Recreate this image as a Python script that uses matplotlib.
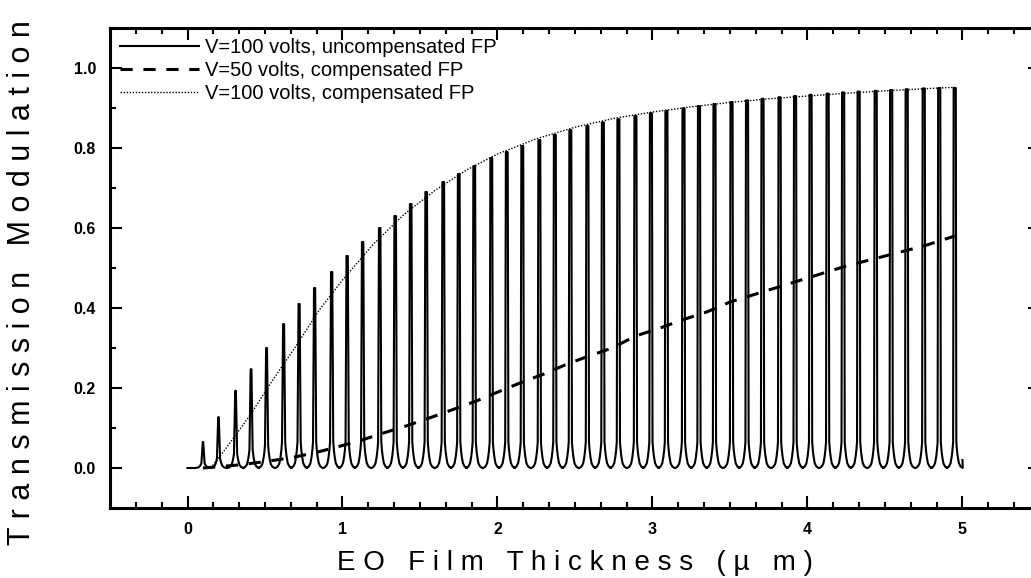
import numpy as np
import matplotlib.pyplot as plt
from matplotlib.ticker import MultipleLocator, AutoMinorLocator

plt.rcParams['font.family'] = ['Liberation Sans', 'DejaVu Sans']

# resonance peaks of the uncompensated FP (V=100 volts)
peak_x = [0.10, 0.20, 0.31, 0.41, 0.51, 0.62, 0.72, 0.82, 0.93, 1.03,
          1.13, 1.24, 1.34, 1.44, 1.54, 1.65, 1.75, 1.85, 1.96, 2.06,
          2.16, 2.27, 2.37, 2.47, 2.58, 2.68, 2.78, 2.89, 2.99, 3.09,
          3.20, 3.30, 3.40, 3.51, 3.61, 3.71, 3.82, 3.92, 4.02, 4.13,
          4.23, 4.33, 4.44, 4.54, 4.64, 4.75, 4.85, 4.95]
peak_h = [0.065, 0.127, 0.193, 0.247, 0.300, 0.360, 0.410, 0.450, 0.490, 0.530,
          0.565, 0.600, 0.630, 0.660, 0.690, 0.715, 0.735, 0.755, 0.775, 0.790,
          0.805, 0.820, 0.833, 0.845, 0.855, 0.864, 0.872, 0.880, 0.887, 0.893,
          0.899, 0.905, 0.910, 0.915, 0.919, 0.923, 0.927, 0.930, 0.933, 0.936,
          0.939, 0.941, 0.943, 0.945, 0.947, 0.949, 0.950, 0.950]

# trough between two peaks: distance from the peak (in periods) and level
trough_dx = [0.10, 0.14, 0.19, 0.26, 0.36, 0.50]
trough_y = [0.065, 0.045, 0.028, 0.012, 0.004, 0.0]

# curve ends
start_x, start_y = 0.0, 0.0
end_x, end_y = 5.0, 0.02

# compensated FP
comp50_x = [0.10, 0.34, 0.48, 0.66, 0.81, 0.96, 1.11, 1.26, 1.41, 1.56,
            1.74, 1.86, 1.99, 2.16, 2.30, 2.45, 2.59, 2.74, 2.89, 3.05,
            3.19, 3.35, 3.50, 3.75, 4.00, 4.25, 4.50, 4.75, 4.95]
comp50_y = [0.0, 0.008, 0.015, 0.025, 0.037, 0.052, 0.068, 0.087, 0.105, 0.125,
            0.150, 0.167, 0.188, 0.215, 0.235, 0.260, 0.280, 0.300, 0.330, 0.350,
            0.370, 0.390, 0.415, 0.445, 0.475, 0.505, 0.530, 0.555, 0.580]
comp100_x = [0.15, 0.25, 0.40, 0.55, 0.70, 0.85, 1.00, 1.20, 1.40, 1.60,
             1.80, 2.00, 2.25, 2.50, 2.75, 3.00, 3.25, 3.50, 3.75, 4.00,
             4.25, 4.50, 4.75, 4.95]
comp100_y = [0.0, 0.05, 0.13, 0.22, 0.305, 0.395, 0.47, 0.56, 0.635, 0.695,
             0.745, 0.785, 0.823, 0.852, 0.874, 0.890, 0.903, 0.914, 0.923, 0.930,
             0.937, 0.943, 0.948, 0.952]

labels = ['V=100 volts, uncompensated FP',
          'V=50 volts, compensated FP',
          'V=100 volts, compensated FP']

# build the uncompensated trace peak by peak
period = np.mean(np.diff(peak_x))
xs, ys = [start_x], [start_y]
for px, h in zip(peak_x, peak_h):
    g = min(1.0, h / 0.35)
    w = (0.01 + 0.06 * h) * period
    for d, y in zip(trough_dx[::-1], trough_y[::-1]):
        xs.append(px - d * period); ys.append(y * g)
    xs += [px - w, px + w]; ys += [h, h]
    for d, y in zip(trough_dx, trough_y):
        xs.append(px + d * period); ys.append(y * g)
xs.append(end_x); ys.append(end_y)

fig = plt.figure(figsize=(10.31, 5.78), dpi=100)
ax = fig.add_axes([0.1067, 0.1211, 0.902, 0.8304])

ax.plot(xs, ys, color='black', lw=1.5, label=labels[0])
ax.plot(comp50_x, comp50_y, color='black', lw=2.2, ls=(0, (4, 3.5)), label=labels[1])
ax.plot(comp100_x, comp100_y, color='black', lw=1.0, ls=(0, (1, 1.2)), label=labels[2])

ax.set_xlim(-0.5, 5.5)
ax.set_ylim(-0.1, 1.1)
ax.xaxis.set_major_locator(MultipleLocator(1))
ax.xaxis.set_minor_locator(AutoMinorLocator(6))
ax.yaxis.set_major_locator(MultipleLocator(0.2))
ax.yaxis.set_minor_locator(MultipleLocator(0.1))
ax.xaxis.set_major_formatter(plt.FormatStrFormatter('%d'))
ax.yaxis.set_major_formatter(plt.FormatStrFormatter('%.1f'))

for s in ax.spines.values():
    s.set_linewidth(2.2)
ax.tick_params(which='both', direction='in', top=True, right=True, width=1.5)
ax.tick_params(which='major', length=8.5, pad=10, labelsize=11.5)
ax.tick_params(which='minor', length=4.5)
for t in ax.get_xticklabels() + ax.get_yticklabels():
    t.set_fontweight('bold')

ax.set_xlabel('E O   F i l m   T h i c k n e s s   ( µ   m )', fontsize=20)
ax.set_ylabel('T r a n s m i s s i o n   M o d u l a t i o n', fontsize=22)
ax.xaxis.set_label_coords(0.5, -0.115)
ax.yaxis.set_label_coords(-0.078, 0.47)
ax.xaxis.label.set_va('center')

leg = ax.legend(loc='upper left', frameon=False, fontsize=14.5, handlelength=3.9,
                handletextpad=0.3, labelspacing=0.2, borderaxespad=0.3,
                borderpad=0.2)

fig.savefig('out.png', dpi=100)
